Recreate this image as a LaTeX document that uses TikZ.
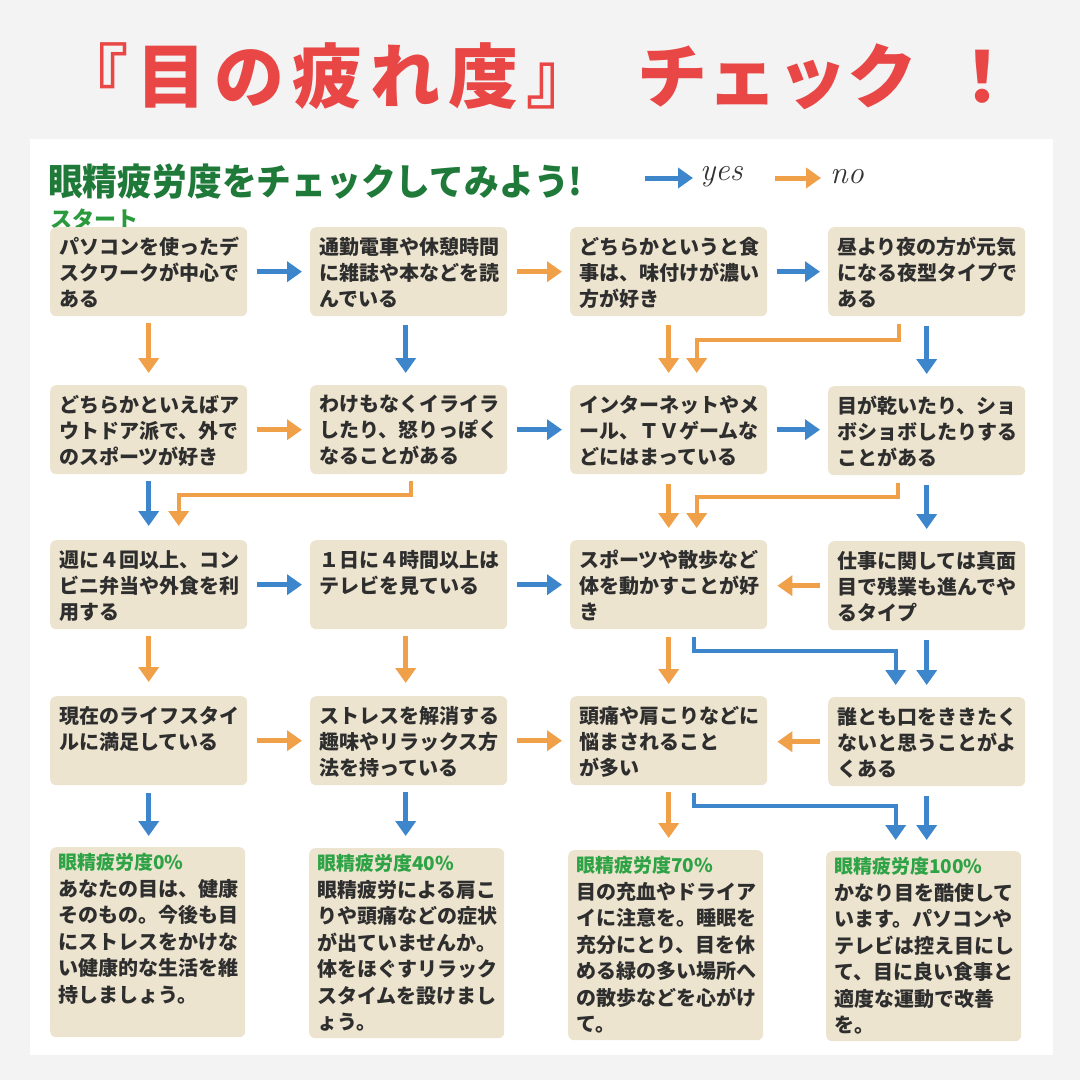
\documentclass[tikz,border=0pt]{standalone}
\usepackage{fontspec}
\setmainfont{Noto Sans CJK JP}
\usetikzlibrary{arrows.meta}
\definecolor{bgout}{HTML}{F3F3F3}
\definecolor{boxfill}{HTML}{EDE4CF}
\definecolor{ablue}{HTML}{3D86CC}
\definecolor{aorange}{HTML}{F0A048}
\definecolor{titlered}{HTML}{E94646}
\definecolor{hgreen}{HTML}{1F7A3A}
\definecolor{sgreen}{HTML}{2A9A3C}
\definecolor{rgreen}{HTML}{2EA346}
\definecolor{txt}{HTML}{2E2E2E}
\tikzset{
  qbox/.style={fill=boxfill, rounded corners=6pt, draw=none, minimum width=197pt, minimum height=89pt, anchor=north west, inner sep=0pt},
  rbox/.style={qbox, minimum width=195pt, minimum height=190pt},
  qtext/.style={anchor=north west, align=left, inner sep=0pt, text=txt, font=\bfseries\fontsize{20}{26}\selectfont},
  rtext/.style={anchor=north west, align=left, inner sep=0pt, text=txt, font=\bfseries\fontsize{20}{26.5}\selectfont},
  rhead/.style={anchor=base west, inner sep=0pt, text=rgreen, font=\bfseries\fontsize{19}{22}\selectfont},
  yarr/.style={draw=ablue, line width=5pt, -{Triangle[width=20pt,length=15pt]}},
  narr/.style={draw=aorange, line width=5pt, -{Triangle[width=20pt,length=15pt]}},
  ylink/.style={yarr, line width=4pt},
  nlink/.style={narr, line width=4pt},
}
\newcommand\qb[4]{%
  \node[qbox] (#1) at (#2,#3) {};
  \node[qtext] (#1t) at ([xshift=9pt,yshift=-10pt]#1.north west) {#4};
}
\newcommand\rb[5]{%
  \node[rbox] (#1) at (#2,#3) {};
  \node[rhead] (#1h) at ([xshift=8pt,yshift=-22pt]#1.north west) {#4};
  \node[rtext] (#1t) at ([xshift=8pt,yshift=-32pt]#1.north west) {#5};
}
% horizontal arrow from box A to box B, kept level with A
\newcommand\harr[3]{\draw[#1] ([xshift=10pt]#2.east) -- ([xshift=-8pt]#2.east -| #3.west);}
\newcommand\harl[3]{\draw[#1] ([xshift=-8pt]#2.west) -- ([xshift=10pt]#2.west -| #3.east);}
% vertical arrow from box A (x offset) down to box B
\newcommand\varr[4]{\draw[#1] ([xshift=#4pt,yshift=-8pt]#2.south) -- ([yshift=12pt]#2.south -| #3.north) ++(#4,0);}
\begin{document}
\begin{tikzpicture}[x=1pt,y=-1pt]
\path[fill=bgout] (0,0) rectangle (1080,1080);
\path[fill=white] (30,139) rectangle (1053,1055);

% title
\node[anchor=base west, inner sep=0pt, text=titlered, font=\bfseries\fontsize{70}{80}\selectfont] (title) at (58,102)
 {『\hspace{8pt}目\hspace{8pt}の\hspace{8pt}疲\hspace{8pt}れ\hspace{8pt}度\hspace{8pt}』\hspace{41pt}チェック\hspace{30pt}！};

% header
\node[anchor=base west, inner sep=0pt, text=hgreen, font=\bfseries\fontsize{37}{40}\selectfont] (head) at (48,195)
 {\scalebox{0.94}[1]{眼精疲労度をチェックしてみよう!}};
\coordinate (ly1) at (645,178);
\coordinate (ly2) at (693,178);
\coordinate (ln1) at (775,178);
\coordinate (ln2) at (821,178);
\draw[yarr] (ly1) -- (ly2);
\draw[narr] (ln1) -- (ln2);
\node[anchor=west, inner sep=0pt, text=black!80, font=\fontspec{Latin Modern Roman}\itshape\fontsize{32}{32}\selectfont] (yes) at (700,177) {yes};
\node[anchor=west, inner sep=0pt, text=black!80, font=\fontspec{Latin Modern Roman}\itshape\fontsize{32}{32}\selectfont] (no) at (830,177) {no};
\node[anchor=base west, inner sep=0pt, text=sgreen, font=\bfseries\fontsize{22}{24}\selectfont] (start) at (50,227) {スタート};

% row 1
\qb{r1c1}{50}{227}{パソコンを使ったデ\\スクワークが中心で\\ある}
\qb{r1c2}{310}{227}{通勤電車や休憩時間\\に雑誌や本などを読\\んでいる}
\qb{r1c3}{570}{227}{どちらかというと食\\事は、味付けが濃い\\方が好き}
\qb{r1c4}{828}{227}{昼より夜の方が元気\\になる夜型タイプで\\ある}
% row 2
\qb{r2c1}{50}{385}{どちらかといえばア\\ウトドア派で、外で\\のスポーツが好き}
\qb{r2c2}{310}{385}{わけもなくイライラ\\したり、怒りっぽく\\なることがある}
\qb{r2c3}{570}{385}{インターネットやメ\\ール、ＴＶゲームな\\どにはまっている}
\qb{r2c4}{828}{386}{目が乾いたり、ショ\\ボショボしたりする\\ことがある}
% row 3
\qb{r3c1}{50}{540}{週に４回以上、コン\\ビニ弁当や外食を利\\用する}
\qb{r3c2}{310}{540}{１日に４時間以上は\\テレビを見ている}
\qb{r3c3}{570}{540}{スポーツや散歩など\\体を動かすことが好\\き}
\qb{r3c4}{828}{541}{仕事に関しては真面\\目で残業も進んでや\\るタイプ}
% row 4
\qb{r4c1}{50}{696}{現在のライフスタイ\\ルに満足している}
\qb{r4c2}{310}{696}{ストレスを解消する\\趣味やリラックス方\\法を持っている}
\qb{r4c3}{570}{696}{頭痛や肩こりなどに\\悩まされること\\が多い}
\qb{r4c4}{828}{697}{誰とも口をききたく\\ないと思うことがよ\\くある}
% results
\rb{res1}{50}{847}{眼精疲労度0\%}{あなたの目は、健康\\そのもの。今後も目\\にストレスをかけな\\い健康的な生活を維\\持しましょう。}
\rb{res2}{309}{848}{眼精疲労度40\%}{眼精疲労による肩こ\\りや頭痛などの症状\\が出ていませんか。\\体をほぐすリラック\\スタイムを設けまし\\ょう。}
\rb{res3}{568}{850}{眼精疲労度70\%}{目の充血やドライア\\イに注意を。睡眠を\\充分にとり、目を休\\める緑の多い場所へ\\の散歩などを心がけ\\て。}
\rb{res4}{826}{851}{眼精疲労度100\%}{かなり目を酷使して\\います。パソコンや\\テレビは控え目にし\\て、目に良い食事と\\適度な運動で改善\\を。}

% horizontal connectors
\harr{yarr}{r1c1}{r1c2}
\harr{narr}{r1c2}{r1c3}
\harr{yarr}{r1c3}{r1c4}
\harr{narr}{r2c1}{r2c2}
\harr{yarr}{r2c2}{r2c3}
\harr{yarr}{r2c3}{r2c4}
\harr{yarr}{r3c1}{r3c2}
\harr{yarr}{r3c2}{r3c3}
\harl{narr}{r3c4}{r3c3}
\harr{narr}{r4c1}{r4c2}
\harr{narr}{r4c2}{r4c3}
\harl{narr}{r4c4}{r4c3}

% row1 -> row2
\draw[narr] ([yshift=-7pt]r1c1.south) -- ([yshift=12pt]r1c1.south |- r2c1.north);
\draw[yarr] ([xshift=-3pt,yshift=-9pt]r1c2.south) -- ([xshift=-3pt,yshift=12pt]r1c2.south |- r2c2.north);
\draw[narr] ([yshift=-9pt]r1c3.south) -- ([yshift=12pt]r1c3.south |- r2c3.north);
\draw[nlink] ([xshift=-28pt,yshift=-8pt]r1c4.south) -- ++(0,16) -| ([xshift=28pt,yshift=12pt]r2c3.north);
\draw[yarr] ([yshift=-10pt]r1c4.south) -- ([yshift=12pt]r1c4.south |- r2c4.north);
% row2 -> row3
\draw[yarr] ([yshift=-7pt]r2c1.south) -- ([yshift=14pt]r2c1.south |- r3c1.north);
\draw[nlink] ([xshift=2pt,yshift=-7pt]r2c2.south) -- ++(0,14) -| ([xshift=30pt,yshift=14pt]r3c1.north);
\draw[narr] ([yshift=-10pt]r2c3.south) -- ([yshift=12pt]r2c3.south |- r3c3.north);
\draw[nlink] ([xshift=-29pt,yshift=-8pt]r2c4.south) -- ++(0,14) -| ([xshift=28pt,yshift=12pt]r3c3.north);
\draw[yarr] ([yshift=-10pt]r2c4.south) -- ([yshift=12pt]r2c4.south |- r3c4.north);
% row3 -> row4
\draw[narr] ([yshift=-7pt]r3c1.south) -- ([yshift=14pt]r3c1.south |- r4c1.north);
\draw[narr] ([xshift=-3pt,yshift=-7pt]r3c2.south) -- ([xshift=-3pt,yshift=13pt]r3c2.south |- r4c2.north);
\draw[narr] ([yshift=-8pt]r3c3.south) -- ([yshift=12pt]r3c3.south |- r4c3.north);
\draw[ylink] ([xshift=25pt,yshift=-8pt]r3c3.south) -- ++(0,14) -| ([xshift=-31pt,yshift=12pt]r4c4.north);
\draw[yarr] ([yshift=-10pt]r3c4.south) -- ([yshift=12pt]r3c4.south |- r4c4.north);
% row4 -> results
\draw[yarr] ([yshift=-8pt]r4c1.south) -- ([yshift=11pt]r4c1.south |- res1.north);
\draw[yarr] ([xshift=-3pt,yshift=-7pt]r4c2.south) -- ([xshift=-3pt,yshift=12pt]r4c2.south |- res2.north);
\draw[narr] ([yshift=-7pt]r4c3.south) -- ([yshift=12pt]r4c3.south |- res3.north);
\draw[ylink] ([xshift=25pt,yshift=-8pt]r4c3.south) -- ++(0,13) -| ([xshift=-28pt,yshift=11pt]res4.north);
\draw[yarr] ([yshift=-10pt]r4c4.south) -- ([yshift=11pt]r4c4.south |- res4.north);
\end{tikzpicture}
\end{document}
